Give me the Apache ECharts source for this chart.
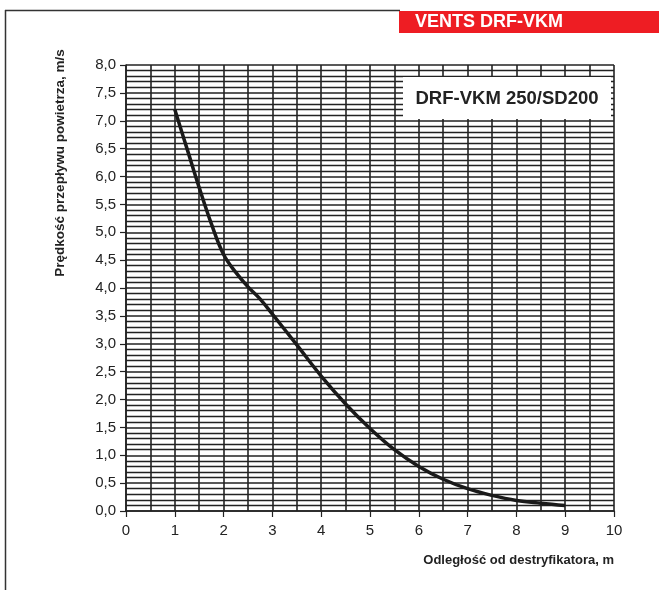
<!DOCTYPE html>
<html>
<head>
<meta charset="utf-8">
<script src="https://cdn.jsdelivr.net/npm/echarts@6/dist/echarts.min.js"></script>
<style>
html,body{margin:0;padding:0;background:#fff;}
#c{width:659px;height:590px;}
</style>
</head>
<body>
<div id="c"></div>
<script>
const distance = [1, 1.25, 1.5, 1.75, 2, 2.25, 2.5, 2.75, 3, 3.5, 4, 4.5, 5, 5.5, 6, 6.5, 7, 7.5, 8, 8.5, 9];
const velocity = [7.2, 6.5, 5.8, 5.15, 4.6, 4.28, 4.02, 3.8, 3.53, 2.98, 2.42, 1.92, 1.48, 1.1, 0.8, 0.57, 0.4, 0.28, 0.19, 0.14, 0.1];
const xTitle = 'Odległość od destryfikatora, m';
const yTitle = 'Prędkość przepływu powietrza, m/s';
const seriesName = 'DRF-VKM 250/SD200';
const brand = 'VENTS DRF-VKM';

const chart = echarts.init(document.getElementById('c'), null, {renderer: 'canvas'});
const gridColor = '#222';
const font = 'Liberation Sans, Arial, sans-serif';

chart.setOption({
  animation: false,
  backgroundColor: '#fff',
  grid: {left: 126, right: 45, top: 65, bottom: 79, containLabel: false},
  xAxis: {
    type: 'value', min: 0, max: 10, interval: 1,
    axisLine: {show: true, onZero: false, lineStyle: {color: gridColor, width: 1.5}},
    axisTick: {show: true, length: 6, lineStyle: {color: gridColor, width: 1.2}},
    axisLabel: {color: '#222', fontSize: 15, fontFamily: font, margin: 12},
    splitLine: {show: true, lineStyle: {color: gridColor, width: 1.6}},
    minorTick: {show: false, splitNumber: 2},
    minorSplitLine: {show: true, lineStyle: {color: gridColor, width: 1.6}}
  },
  yAxis: {
    type: 'value', min: 0, max: 8, interval: 0.5,
    axisLine: {show: true, onZero: false, lineStyle: {color: gridColor, width: 1.5}},
    axisTick: {show: true, length: 6, lineStyle: {color: gridColor, width: 1.2}},
    axisLabel: {color: '#222', fontSize: 15, fontFamily: font, margin: 10,
      formatter: v => v.toFixed(1).replace('.', ',')},
    splitLine: {show: true, lineStyle: {color: gridColor, width: 1.6}},
    minorTick: {show: false, splitNumber: 5},
    minorSplitLine: {show: true, lineStyle: {color: gridColor, width: 1.4}}
  },
  series: [{
    name: seriesName,
    type: 'line',
    smooth: 0.4,
    symbol: 'none',
    data: distance.map((d, i) => [d, velocity[i]]),
    lineStyle: {color: '#1a1a1a', width: 3.5},
    z: 10
  }],
  graphic: [
    {type: 'line', shape: {x1: 5, y1: 10.5, x2: 400, y2: 10.5}, style: {stroke: '#333', lineWidth: 1.5}, z: 50},
    {type: 'line', shape: {x1: 5.5, y1: 10, x2: 5.5, y2: 590}, style: {stroke: '#333', lineWidth: 1.5}, z: 50},
    {type: 'rect', shape: {x: 399, y: 11, width: 260, height: 22}, style: {fill: '#ee1d23'}, z: 50},
    {type: 'text', x: 415, y: 22, style: {text: brand, fill: '#fff', font: 'bold 18px ' + font, textVerticalAlign: 'middle'}, z: 51},
    {type: 'rect', shape: {x: 403, y: 77, width: 208, height: 42}, style: {fill: '#fff'}, z: 100},
    {type: 'text', x: 507, y: 99, style: {text: seriesName, fill: '#222', font: 'bold 18.5px ' + font, textAlign: 'center', textVerticalAlign: 'middle'}, z: 101},
    {type: 'text', x: 614, y: 560, style: {text: xTitle, fill: '#222', font: 'bold 13px ' + font, textAlign: 'right', textVerticalAlign: 'middle'}, z: 50},
    {type: 'text', x: 60, y: 163, rotation: Math.PI / 2, style: {text: yTitle, fill: '#222', font: 'bold 13.5px ' + font, textAlign: 'center', textVerticalAlign: 'middle'}, z: 50}
  ]
});
</script>
</body>
</html>
